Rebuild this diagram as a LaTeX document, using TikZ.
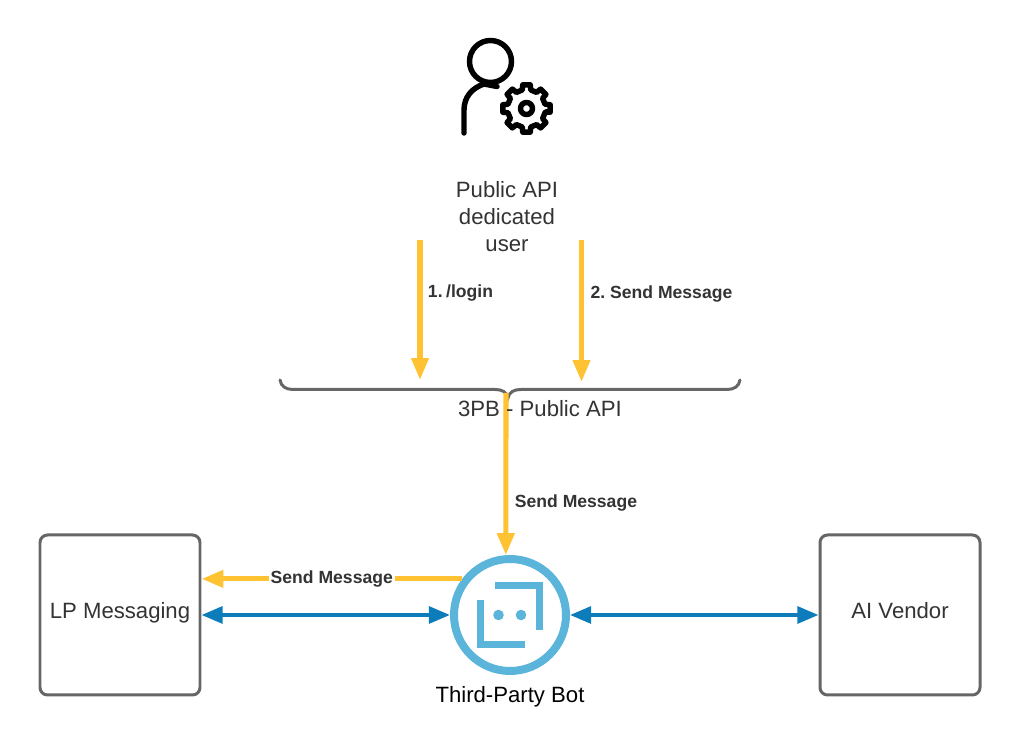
\documentclass[tikz,border=0pt]{standalone}
\usepackage{fontspec}
\usepackage{tikz}
\setmainfont{Liberation Sans}
\usetikzlibrary{arrows.meta}
\usetikzlibrary{positioning}
\definecolor{myellow}{HTML}{FFC233}
\definecolor{mblue}{HTML}{0C7CBA}
\definecolor{mcyan}{HTML}{5BB5DA}
\definecolor{mgrey}{HTML}{666666}
\definecolor{mtext}{HTML}{333333}

\begin{document}
\begin{tikzpicture}[
    sendline/.style={myellow, line width=2.9pt, -{Triangle[length=12.5pt, width=9.5pt]}},
    syncline/.style={mblue, line width=2.2pt, {Triangle[length=12pt, width=9.5pt]}-{Triangle[length=12pt, width=9.5pt]}},
    sysbox/.style={draw=mgrey, line width=1.7pt, rounded corners=0.15cm, minimum size=3.2cm, text height=9pt, text depth=5pt, text=mtext, font=\fontsize{12.6}{15.4}\selectfont},
    plainlabel/.style={text=mtext, font=\fontsize{12.6}{15.4}\selectfont},
    steplabel/.style={text=mtext, inner sep=1pt, font=\fontsize{10}{12}\selectfont\bfseries},
    iconline/.style={black, line width=3.1pt, line cap=round, line join=round}]
    \useasboundingbox (0, 0) rectangle (20.4, 14.9);

    % user with gear
    \draw [iconline] (9.81, 13.67) circle (0.42);
    \draw [iconline] (9.28, 12.24) -- (9.28, 12.7) .. controls (9.28, 12.96) and (9.44, 13.14) .. (9.68, 13.22) -- (9.94, 13.17);
    \begin{scope}[shift={(10.53, 12.73)}]
      \draw [iconline] (-10:0.39) \foreach \a in {0, 45, ..., 315} {-- (\a-9:0.48) -- (\a+9:0.48) -- (\a+13:0.38) -- (\a+32:0.38)} -- cycle;
      \draw [iconline] (0, 0) circle (0.12);
    \end{scope}

    \node [plainlabel, align=center] (user) at (10.14, 10.56) {Public API\\dedicated\\user};

    \coordinate (loginfrom) at (8.4, 10.1);
    \coordinate (loginto) at (8.4, 7.3);
    \coordinate (sendfrom) at (11.63, 10.1);
    \coordinate (sendto) at (11.63, 7.26);
    \coordinate (bracetip) at (10.12, 7.04);

    \draw [sendline] (loginfrom) -- (loginto);
    \draw [sendline] (sendfrom) -- (sendto);
    \node [steplabel] (login) at (9.21, 9.04) {1.\kern2pt /login};
    \node [steplabel] (message) at (13.23, 9.02) {2.\ Send Message};

    % brace over the api
    \draw [mgrey, line width=1.7pt, line cap=round] (5.6, 7.3) .. controls (5.62, 7.17) and (5.72, 7.11) .. (5.86, 7.11) -- (9.9, 7.11) .. controls (10.04, 7.11) and (10.14, 7.06) .. (10.16, 6.94) .. controls (10.18, 7.06) and (10.28, 7.11) .. (10.42, 7.11) -- (14.54, 7.11) .. controls (14.68, 7.11) and (14.78, 7.17) .. (14.8, 7.3);

    \node [sysbox] (lp) at (2.4, 2.6) {LP Messaging};
    \node [sysbox] (vendor) at (18, 2.6) {AI Vendor};
    \node [circle, draw=mcyan, line width=4.55pt, minimum size=2.24cm] (bot) at (10.2, 2.6) {};
    \node [text=black, font=\fontsize{12.6}{15.4}\selectfont] (botname) at (10.2, 0.97) {Third-Party Bot};

    % bot glyph
    \draw [mcyan, line width=4pt] (9.9, 3.19) -- (10.79, 3.19) -- (10.79, 2.3);
    \draw [mcyan, line width=4pt] (9.61, 2.9) -- (9.61, 2.01) -- (10.5, 2.01);
    \fill [mcyan] (9.97, 2.6) circle (0.106);
    \fill [mcyan] (10.42, 2.6) circle (0.106);

    \draw [sendline] (bracetip) -- (bot.94);
    \draw [sendline] (bot.143) -- (bot.143 -| lp.east) node [midway, fill=white, steplabel] (tolp) {Send Message};
    \draw [syncline] (lp) -- (bot);
    \draw [syncline] (bot) -- (vendor);

    \node [steplabel] (tobot) at (11.52, 4.84) {Send Message};
    \node [plainlabel] (api) at (10.8, 6.72) {3PB - Public API};
  \end{tikzpicture}
\end{document}
